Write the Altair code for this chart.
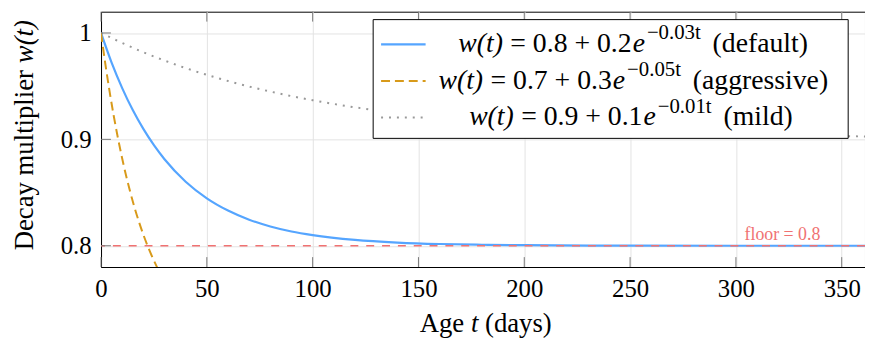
import altair as alt
import pandas as pd

# ---- data ----
T_DEFAULT = [0, 5, 10, 15, 20, 25, 30, 40, 50, 60, 70, 80, 90, 100, 120, 140, 160, 180, 200, 250, 300, 361]
W_DEFAULT = [1.0, 0.9721, 0.9482, 0.9275, 0.9098, 0.8945, 0.8813, 0.8602, 0.8446, 0.8331, 0.8245,
             0.8181, 0.8134, 0.8100, 0.8055, 0.8030, 0.8016, 0.8009, 0.8005, 0.8001, 0.8000, 0.8000]

T_AGGR = [0, 2, 4, 6, 8, 10, 12, 14, 16, 18, 20, 22, 24, 26, 28]
W_AGGR = [1.0, 0.9714, 0.9456, 0.9222, 0.9011, 0.8820, 0.8646, 0.8490, 0.8348, 0.8220, 0.8104,
          0.7999, 0.7904, 0.7818, 0.7740]

T_MILD = [0, 20, 40, 60, 80, 100, 120, 140, 160, 180, 200, 240, 280, 320, 361]
W_MILD = [1.0, 0.9819, 0.9670, 0.9549, 0.9449, 0.9368, 0.9301, 0.9247, 0.9202, 0.9165, 0.9135,
          0.9091, 0.9061, 0.9041, 0.9027]

FLOOR = 0.8
FLOOR_LABEL_T = 322
X_TICKS = [0, 50, 100, 150, 200, 250, 300, 350]
Y_TICKS = [0.8, 0.9, 1.0]

LEGEND_MID = ["= 0.8 + 0.2", "= 0.7 + 0.3", "= 0.9 + 0.1"]
LEGEND_SUP = ["\u22120.03t", "\u22120.05t", "\u22120.01t"]
LEGEND_LAB = ["(default)", "(aggressive)", "(mild)"]

FONT = "Liberation Serif"
W, H = 772, 258

BLUE = "#55a5ff"
ORANGE = "#d89a1a"
GRAY = "#999999"
RED = "#f07272"

xs = alt.Scale(domain=[0, 361], nice=False, zero=False)
ys = alt.Scale(domain=[0.78, 1.02], nice=False, zero=False)
xaxis = alt.Axis(values=X_TICKS, title=None, tickSize=0, labelPadding=10, labelFontSize=25,
                 labelFont=FONT, labelColor="black", domainColor="black", gridColor="#e3e3e3",
                 labelFlush=False)
yaxis = alt.Axis(values=Y_TICKS, title=None, tickSize=0, labelPadding=10, labelFontSize=25,
                 labelFont=FONT, labelColor="black", domainColor="black", gridColor="#e3e3e3",
                 labelExpr="datum.value == 1 ? '1' : format(datum.value, '.1f')")
X = alt.X("t:Q", scale=xs, axis=xaxis)
Y = alt.Y("w:Q", scale=ys, axis=yaxis)


def series(t, w):
    return alt.Chart(pd.DataFrame({"t": t, "w": w}))


one = pd.DataFrame({"a": [0]})


def txt(s, x, y, size=27, align="left", italic=False, color="black", angle=0):
    kw = dict(text=s, font=FONT, fontSize=size, align=align, baseline="middle", color=color)
    if italic:
        kw["fontStyle"] = "italic"
    if angle:
        kw["angle"] = angle
    return alt.Chart(one).mark_text(**kw).encode(x=alt.value(x), y=alt.value(y))


base = series(T_DEFAULT, W_DEFAULT).mark_line(opacity=0).encode(x=X, y=Y)

mild = series(T_MILD, W_MILD).mark_line(
    interpolate="monotone", clip=True, color=GRAY, strokeWidth=2, strokeDash=[2, 6]
).encode(x=X, y=Y)
default = series(T_DEFAULT, W_DEFAULT).mark_line(
    interpolate="monotone", clip=True, color=BLUE, strokeWidth=2.2
).encode(x=X, y=Y)
aggr = series(T_AGGR, W_AGGR).mark_line(
    interpolate="monotone", clip=True, color=ORANGE, strokeWidth=2, strokeDash=[9, 5]
).encode(x=X, y=Y)

floor = alt.Chart(pd.DataFrame({"w": [FLOOR]})).mark_rule(
    color=RED, strokeWidth=1.4, strokeDash=[8, 8]
).encode(y=Y)
floor_label = alt.Chart(pd.DataFrame({"t": [FLOOR_LABEL_T], "w": [FLOOR]})).mark_text(
    text="floor = 0.8", font=FONT, fontSize=18, color=RED, dy=-11, baseline="middle"
).encode(x=X, y=Y)

# inward ticks (pgfplots style)
xt = pd.DataFrame({"t": X_TICKS})
yt = pd.DataFrame({"w": Y_TICKS})
tick_b = alt.Chart(xt).mark_rule(color="#777777", strokeWidth=1).encode(x=X, y=alt.value(H), y2=alt.value(H - 10))
tick_t = alt.Chart(xt).mark_rule(color="#777777", strokeWidth=1).encode(x=X, y=alt.value(0), y2=alt.value(10))
tick_l = alt.Chart(yt).mark_rule(color="#777777", strokeWidth=1).encode(y=Y, x=alt.value(0), x2=alt.value(10))

# legend box
box = alt.Chart(one).mark_rect(fill="white", stroke="black", strokeWidth=1).encode(
    x=alt.value(275), x2=alt.value(755), y=alt.value(8), y2=alt.value(128)
)
rows = [33, 70, 107]
leg_lines = [
    alt.Chart(one).mark_rule(color=BLUE, strokeWidth=2.2).encode(
        x=alt.value(283), x2=alt.value(328), y=alt.value(rows[0])),
    alt.Chart(one).mark_rule(color=ORANGE, strokeWidth=2, strokeDash=[9, 5]).encode(
        x=alt.value(283), x2=alt.value(328), y=alt.value(rows[1])),
    alt.Chart(one).mark_rule(color=GRAY, strokeWidth=2, strokeDash=[2, 6]).encode(
        x=alt.value(283), x2=alt.value(328), y=alt.value(rows[2])),
]
row_starts = [361, 341, 372]
leg_text = []
for mid, sup, lab, s, ry in zip(LEGEND_MID, LEGEND_SUP, LEGEND_LAB, row_starts, rows):
    leg_text += [
        txt("w(t)", s, ry, size=28, italic=True),
        txt(mid, s + 52.6, ry, size=28),
        txt("e", s + 176.2, ry, size=28, italic=True),
        txt(sup, s + 190.6, ry - 11, size=21),
        txt(lab, s + 257, ry, size=28),
    ]

# axis titles
titles = [
    txt("Age", 367, 316, align="right"),
    txt("t", 377.5, 316, align="center", italic=True),
    txt("(days)", 388, 316),
    txt("Decay multiplier", -77, 59, align="right", angle=270),
    txt("w(t)", -77, 52, align="left", italic=True, angle=270),
]

chart = alt.layer(
    base, mild, default, aggr, floor, floor_label, tick_b, tick_t, tick_l,
    box, *leg_lines, *leg_text, *titles
).properties(
    width=W, height=H,
    autosize=alt.AutoSizeParams(type="none"),
    padding={"left": 94, "top": 2, "right": 0, "bottom": 70},
).configure_view(stroke="black", strokeWidth=1).configure_axis(domainWidth=1, gridWidth=1)

chart.save("out.html", embed_options={"renderer": "svg", "actions": False})
